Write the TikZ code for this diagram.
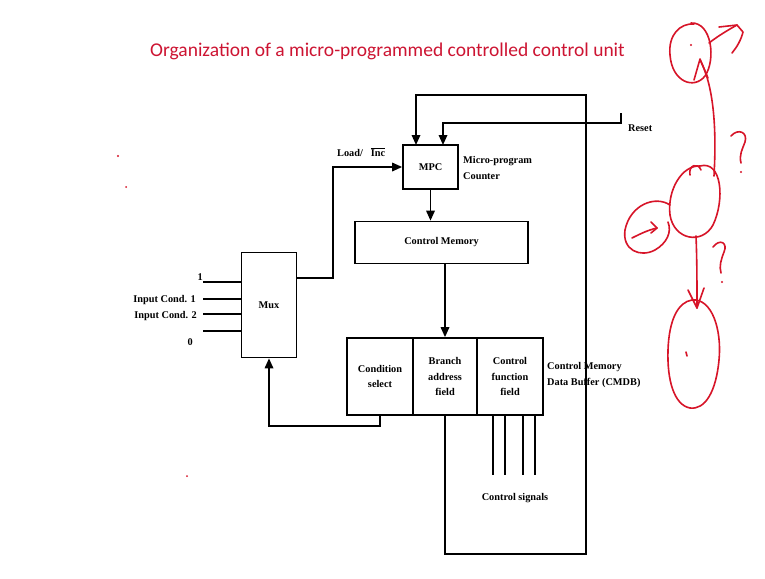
\documentclass[tikz,border=0pt]{standalone}
\usepackage{fontspec}
\setmainfont{Liberation Serif}
\newfontfamily\titlefont{Carlito}
\usetikzlibrary{arrows.meta}
\definecolor{titlered}{RGB}{205,20,50}
\definecolor{penred}{RGB}{215,20,40}
\tikzset{
  blk/.style={draw, line width=1.7pt, inner sep=0pt, font=\bfseries\fontsize{10.3}{15.5}\selectfont, align=center},
  wire/.style={line width=1.7pt},
  arr/.style={line width=1.7pt, -{Triangle[length=10pt,width=8.5pt]}},
  lbl/.style={font=\bfseries\fontsize{10.3}{15.5}\selectfont, inner sep=0pt},
  ink/.style={penred, line width=1.6pt, line cap=round, line join=round},
}
\begin{document}
\begin{tikzpicture}[x=1pt,y=-1pt]
\useasboundingbox (0,0) rectangle (765,578);
\fill[white] (0,0) rectangle (765,578);

% title
\node[text=titlered, font=\titlefont\fontsize{19.5}{22}\selectfont] (title) at (387.5,51) {Organization of a micro-programmed controlled control unit};

% blocks
\node[blk, minimum width=55pt, minimum height=44pt] (mpc) at (430.5,167) {MPC};
\node[blk, minimum width=173pt, minimum height=42pt] (cm) at (441.5,242.5) {Control Memory};
\node[blk, minimum width=66pt, minimum height=77pt] (cs) at (380,376.5) {Condition\\select};
\node[blk, minimum width=64pt, minimum height=77pt] (ba) at (445,376.5) {Branch\\address\\field};
\node[blk, minimum width=66pt, minimum height=77pt] (cf) at (510,376.5) {Control\\function\\field};
\node[blk, minimum width=55pt, minimum height=105pt] (mux) at (269,305) {Mux};

% labels
\node[lbl, anchor=west, align=left] (mpclbl) at (463,168) {Micro-program\\Counter};
\node[lbl, anchor=west, align=left] (cmdblbl) at (547,375) {Control Memory\\Data Buffer (CMDB)};
\node[lbl, anchor=west] (load) at (337,152) {Load/\hspace{8pt}$\overline{\hbox{\bfseries Inc}}$};
\node[lbl, anchor=west] (reset) at (628,128) {Reset};
\node[lbl] (sig) at (515,498) {Control signals};
\node[lbl, anchor=east] (in1) at (203,277) {1};
\node[lbl, anchor=east] (ic1) at (196,300) {Input Cond. 1};
\node[lbl, anchor=east] (ic2) at (197,316) {Input Cond. 2};
\node[lbl, anchor=east] (in0) at (193,342) {0};

% mux inputs
\foreach \yy in {282,299,314,331}
  \draw[wire] (203,\yy) -- (mux.west |- 0,\yy);

% mux output to MPC
\coordinate (muxout) at (296.5,278);
\draw[arr] (muxout) -- (333,278) |- (mpc.west);

% MPC to control memory, control memory to CMDB
\draw[arr] (mpc.south) -- (mpc.south |- cm.north);
\draw[arr] (ba.north |- cm.south) -- (ba.north);

% branch address loop back to MPC
\coordinate (loopbr) at (586,554);
\coordinate (looptr) at (586,95);
\draw[arr] (ba.south) -- (ba.south |- loopbr) -- (loopbr) -- (looptr) -- (416,95) -- (416,145);

% reset
\coordinate (rst) at (621,113);
\draw[arr] (rst) -- (621,123) -- (443,123) -- (443,145);

% condition select back to mux
\draw[arr] (cs.south) -- (cs.south |- 0,426) -| (mux.south);

% control signal lines
\foreach \xx in {493,505,523,535}
  \draw[wire] (\xx,415) -- (\xx,475);

% hand-drawn annotations
\draw[ink] (691,23) .. controls (712,22) and (716,60) .. (705,76)
  .. controls (694,90) and (672,82) .. (670,55)
  .. controls (668,35) and (680,23) .. (694,24);
\fill[penred] (691,45) circle (1.2pt);
\draw[ink] (709,43) .. controls (718,36) and (728,30) .. (737,25);
\draw[ink] (719,27) -- (737,25) -- (743,32) .. controls (741,40) and (737,47) .. (732,53);
\draw[ink] (714,176) .. controls (716,140) and (716,90) .. (700,60);
\draw[ink] (694,80) -- (700,59) -- (708,78);
\draw[ink] (700,166) .. controls (722,160) and (725,200) .. (713,225)
  .. controls (702,245) and (674,240) .. (670,215)
  .. controls (667,190) and (682,165) .. (700,166);
\draw[ink] (690,175) .. controls (688,165) and (698,162) .. (701,170);
\draw[ink] (670,205) .. controls (655,195) and (630,205) .. (625,230)
  .. controls (622,250) and (640,258) .. (655,250)
  .. controls (667,243) and (672,232) .. (668,222);
\draw[ink] (632,238) .. controls (640,234) and (648,230) .. (657,228);
\draw[ink] (651,222) -- (657,228) -- (651,233);
\draw[ink] (696,236) .. controls (697,260) and (697,285) .. (697,308);
\draw[ink] (688,290) -- (697,308) -- (704,288);
\draw[ink] (692,300) .. controls (712,298) and (722,330) .. (719,360)
  .. controls (716,392) and (705,410) .. (690,408)
  .. controls (674,405) and (667,380) .. (668,350)
  .. controls (669,320) and (678,302) .. (692,300);
\draw[ink] (686,352) -- (687,356);
\draw[ink] (731,136) .. controls (738,128) and (748,132) .. (745,142)
  .. controls (742,150) and (739,155) .. (741,163);
\fill[penred] (741,172) circle (1.1pt);
\draw[ink] (713,247) .. controls (720,238) and (728,243) .. (724,252)
  .. controls (721,260) and (719,266) .. (721,273);
\fill[penred] (722,282) circle (1.1pt);
\fill[penred] (118,156) circle (1.2pt);
\fill[penred] (126,187) circle (1pt);
\fill[penred] (187,476) circle (1pt);
\end{tikzpicture}
\end{document}
